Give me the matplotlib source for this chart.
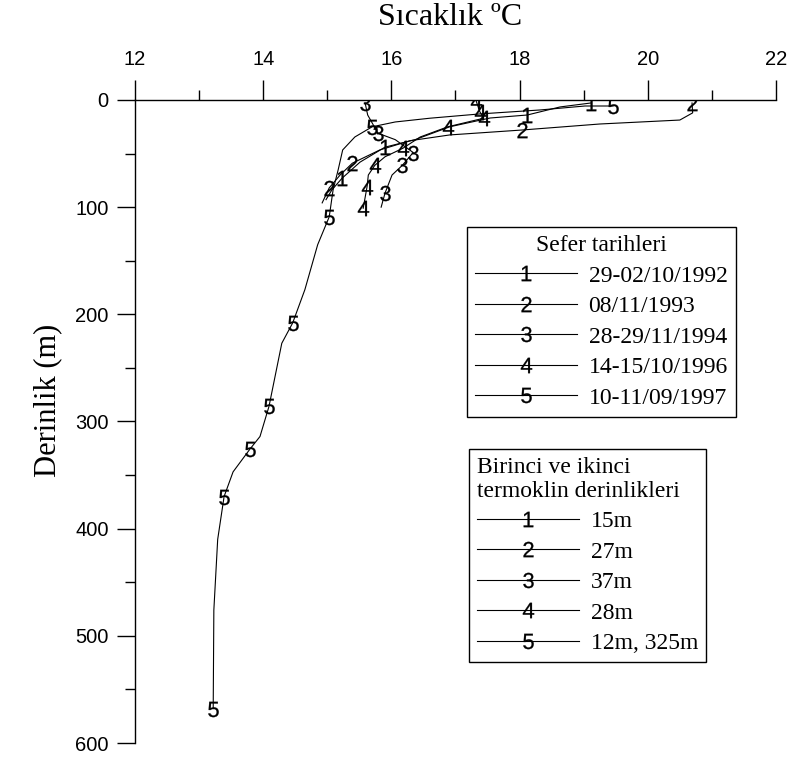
import matplotlib
matplotlib.use("Agg")
import matplotlib.pyplot as plt
from matplotlib.lines import Line2D
from matplotlib.ticker import MultipleLocator

plt.rcParams["mathtext.fontset"] = "custom"
plt.rcParams["mathtext.rm"] = "Liberation Sans"
plt.rcParams["font.family"] = ["Liberation Sans", "DejaVu Sans"]

SERIF = ["Liberation Serif", "DejaVu Serif"]

# Temperature (°C) / depth (m) profiles for each cruise; *_lab are the
# indices of the points that carry the cruise number.
t1 = [19.11, 18.63, 18.12, 17.54, 16.91, 16.37, 15.90, 15.51, 15.23, 15.07, 14.98]
d1 = [2.8, 6.5, 14, 16.8, 25, 37, 44, 58, 73, 84, 93]
lab1 = [0, 2, 6, 8]

t2 = [20.69, 20.70, 20.50, 19.25, 18.04, 16.91, 16.29, 15.82, 15.39, 15.20, 15.03, 14.92]
d2 = [2.8, 12, 18.7, 22.4, 28, 32.6, 38, 46.6, 59, 70, 82, 96]
lab2 = [0, 4, 8, 10]

t3 = [15.59, 15.63, 15.79, 16.06, 16.34, 16.17, 16.01, 15.90, 15.84]
d3 = [2.8, 14, 31, 37, 49, 61, 70, 87, 100]
lab3 = [0, 2, 4, 5, 7]

t4 = [17.32, 17.38, 17.44, 16.88, 16.45, 16.18, 15.90, 15.74, 15.64, 15.62, 15.56]
d4 = [0.5, 11, 17, 25, 34.5, 45, 53, 61, 70, 81, 101]
lab4 = [0, 1, 2, 3, 5, 7, 9, 10]

t5 = [19.46, 19.02, 18.32, 17.38, 16.60, 16.06, 15.70, 15.43, 15.24, 15.17, 15.09,
      15.03, 14.85, 14.65, 14.46, 14.29, 14.09, 13.95, 13.79, 13.53, 13.39, 13.29,
      13.23, 13.22]
d5 = [5.6, 5.6, 9.3, 13, 17, 20.5, 25, 34.5, 46.6, 65, 84,
      109, 135, 177, 208, 227, 286, 314, 326, 347, 370, 410,
      476, 568]
lab5 = [0, 6, 11, 14, 16, 18, 20, 23]

cruise_dates = ["29-02/10/1992", "08/11/1993", "28-29/11/1994",
                "14-15/10/1996", "10-11/09/1997"]
thermocline = ["15m", "27m", "37m", "28m", "12m, 325m"]

profiles = [(t1, d1, lab1), (t2, d2, lab2), (t3, d3, lab3), (t4, d4, lab4), (t5, d5, lab5)]

fig = plt.figure(figsize=(7.93, 7.59), dpi=100)
ax = fig.add_axes([0.17024, 0.02108, 0.80832, 0.84717])

LW = 0.8
MS = 11


def digit(i):
    return r"$\mathrm{%d}$" % i


for k, (t, d, lab) in enumerate(profiles, start=1):
    ax.plot(t, d, color="black", lw=LW, marker=digit(k), markersize=MS,
            markevery=lab, markerfacecolor="black", markeredgewidth=0.2,
            markeredgecolor="black")

ax.set_xlim(12, 22)
ax.set_ylim(600, 0)
ax.xaxis.set_major_locator(MultipleLocator(2))
ax.xaxis.set_minor_locator(MultipleLocator(1))
ax.yaxis.set_major_locator(MultipleLocator(100))
ax.yaxis.set_minor_locator(MultipleLocator(50))
ax.xaxis.tick_top()
ax.spines["right"].set_visible(False)
ax.spines["bottom"].set_visible(False)
for s in ("top", "left"):
    ax.spines[s].set_linewidth(1.0)
ax.tick_params(axis="x", which="major", direction="out", length=14.4, width=1.0,
               labelsize=14.5, pad=8)
ax.tick_params(axis="x", which="minor", direction="out", length=7.2, width=1.0)
ax.tick_params(axis="y", which="major", direction="out", length=13, width=1.0,
               labelsize=14.5, pad=6)
ax.tick_params(axis="y", which="minor", direction="out", length=7.2, width=1.0)

fig.text(0.5675, 0.9776, "Sıcaklık ºC", family=SERIF, fontsize=23,
         ha="center", va="center")
fig.text(0.0605, 0.473, "Derinlik (m)", family=SERIF, fontsize=22,
         rotation=90, ha="center", va="center")


def handles():
    return [Line2D([], [], color="black", lw=LW, marker=digit(k), markersize=MS,
                   markerfacecolor="black", markeredgewidth=0.2)
            for k in range(1, 6)]


leg_kw = dict(frameon=True, fancybox=False, shadow=False, framealpha=1,
              edgecolor="black", borderaxespad=0, numpoints=1,
              prop={"family": SERIF, "size": 17},
              title_fontproperties={"family": SERIF, "size": 17},
              handlelength=4.3, handletextpad=0.5, labelspacing=0.38,
              borderpad=0.35, loc="upper left")

leg1 = ax.legend(handles(), cruise_dates, title="Sefer tarihleri",
                 bbox_to_anchor=(467 / 793, 1 - 227 / 759),
                 bbox_transform=fig.transFigure, **leg_kw)
leg1.get_frame().set_linewidth(1.0)
ax.add_artist(leg1)

leg2 = ax.legend(handles(), thermocline,
                 title="Birinci ve ikinci\ntermoklin derinlikleri",
                 bbox_to_anchor=(469 / 793, 1 - 449 / 759),
                 bbox_transform=fig.transFigure, alignment="left", **leg_kw)
leg2.get_title().set_multialignment("left")
leg2.get_title().set_linespacing(1.15)
leg2.get_frame().set_linewidth(1.0)

fig.savefig("out.png", dpi=100)
